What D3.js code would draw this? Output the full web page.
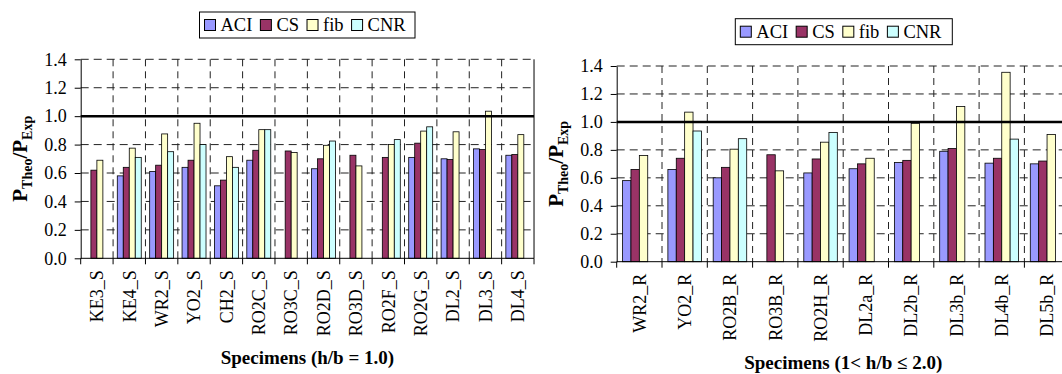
<!DOCTYPE html>
<html><head><meta charset="utf-8">
<script src="https://cdn.jsdelivr.net/npm/d3@7"></script>
<style>body{margin:0;background:#fff}svg{display:block}
svg text{font-family:"Liberation Serif","Times New Roman",Times,"DejaVu Serif",serif !important;}</style>
</head><body>
<svg id="c" width="1062" height="374"></svg>
<script>
const seriesNames = ["ACI", "CS", "fib", "CNR"];
const seriesColors = ["#9999FF", "#993366", "#FFFFCC", "#CCFFFF"];
const yTicks = [0, 0.2, 0.4, 0.6, 0.8, 1.0, 1.2, 1.4];

const leftCategories = ["KE3_S","KE4_S","WR2_S","YO2_S","CH2_S","RO2C_S","RO3C_S","RO2D_S","RO3D_S","RO2F_S","RO2G_S","DL2_S","DL3_S","DL4_S"];
const leftACI = [null,0.58,0.61,0.64,0.51,0.69,null,0.63,null,null,0.71,0.70,0.77,0.725];
const leftCS  = [0.62,0.64,0.655,0.69,0.55,0.76,0.755,0.70,0.725,0.71,0.81,0.695,0.765,0.73];
const leftFib = [0.69,0.775,0.875,0.95,0.715,0.905,0.745,0.795,0.65,0.80,0.895,0.89,1.035,0.87];
const leftCNR = [null,0.71,0.75,0.80,0.64,0.905,null,0.825,null,0.835,0.925,null,null,null];

const rightCategories = ["WR2_R","YO2_R","RO2B_R","RO3B_R","RO2H_R","DL2a_R","DL2b_R","DL3b_R","DL4b_R","DL5b_R"];
const rightACI = [0.58,0.66,0.60,null,0.635,0.665,0.71,0.79,0.705,0.70];
const rightCS  = [0.66,0.74,0.675,0.765,0.735,0.70,0.725,0.81,0.74,0.72];
const rightFib = [0.76,1.07,0.805,0.65,0.855,0.74,0.99,1.11,1.355,0.91];
const rightCNR = [null,0.935,0.88,null,0.925,null,null,null,0.877,null];

const svg = d3.select("#c");
const FONT = '"Liberation Serif","Times New Roman",Times,serif';

function drawChart(cfg) {
  const g = svg.append("g").style("font-family", FONT);
  const n = cfg.categories.length;
  const x0 = d3.scaleBand().domain(cfg.categories).range([cfg.left, cfg.left + n * cfg.step]).padding(0);
  const off = cfg.step * 0.13;
  const x1 = d3.scaleBand().domain(seriesNames).range([off, cfg.step - off]).padding(0);
  const y = d3.scaleLinear().domain([0, 1.4]).range([cfg.bottom, cfg.top]);
  const right = cfg.left + n * cfg.step;

  g.append("g").selectAll("line").data(yTicks.filter(t => t > 0 && t !== 1.0))
    .join("line")
    .attr("x1", cfg.left).attr("x2", right)
    .attr("y1", d => y(d)).attr("y2", d => y(d))
    .attr("stroke", "#222").attr("stroke-width", 1).attr("stroke-dasharray", "8,5");
  g.append("g").selectAll("line").data(cfg.categories.slice(1))
    .join("line")
    .attr("x1", d => x0(d)).attr("x2", d => x0(d))
    .attr("y1", cfg.top).attr("y2", cfg.bottom)
    .attr("stroke", "#222").attr("stroke-width", 1).attr("stroke-dasharray", "7,5");

  const series = [cfg.aci, cfg.cs, cfg.fib, cfg.cnr];
  const rows = [];
  cfg.categories.forEach((c, i) => {
    series.forEach((arr, s) => {
      if (arr[i] != null) rows.push({c, s: seriesNames[s], v: arr[i], col: seriesColors[s]});
    });
  });
  g.append("g").selectAll("rect").data(rows).join("rect")
    .attr("x", d => x0(d.c) + x1(d.s))
    .attr("y", d => y(d.v))
    .attr("width", x1.bandwidth())
    .attr("height", d => y(0) - y(d.v))
    .attr("fill", d => d.col)
    .attr("stroke", "#000").attr("stroke-width", 0.8);

  g.append("line").attr("x1", cfg.left).attr("x2", right)
    .attr("y1", y(1.0)).attr("y2", y(1.0))
    .attr("stroke", "#000").attr("stroke-width", 2.5);

  if (cfg.rightBorder) {
    g.append("line").attr("x1", right).attr("x2", right)
      .attr("y1", cfg.top).attr("y2", cfg.bottom).attr("stroke", "#000").attr("stroke-width", 1);
  }

  const yAxis = d3.axisLeft(y).tickValues(yTicks).tickFormat(d3.format(".1f")).tickSize(6).tickSizeOuter(0).tickPadding(8);
  const ya = g.append("g").attr("transform", `translate(${cfg.left},0)`).call(yAxis);
  ya.attr("font-family", null).attr("font-size", null);
  ya.select(".domain").attr("stroke", "#000");
  ya.selectAll(".tick line").attr("stroke", "#000");
  ya.selectAll("text").style("font-family", FONT).attr("font-size", 18).attr("fill", "#000");

  g.append("line").attr("x1", cfg.left).attr("x2", right)
    .attr("y1", y(0)).attr("y2", y(0)).attr("stroke", "#000");
  const bounds = cfg.categories.map(c => x0(c)).concat([right]);
  g.append("g").selectAll("line").data(bounds).join("line")
    .attr("x1", d => d).attr("x2", d => d)
    .attr("y1", y(0)).attr("y2", y(0) + 6).attr("stroke", "#000");

  g.append("g").selectAll("text").data(cfg.categories).join("text")
    .attr("transform", d => `translate(${x0(d) + cfg.step / 2},${y(0) + 12}) rotate(-90)`)
    .attr("text-anchor", "end").attr("dy", "0.35em")
    .style("font-family", FONT).attr("font-size", 18).attr("fill", "#000")
    .text(d => d);

  g.append("text").attr("x", (cfg.left + right) / 2).attr("y", cfg.xTitleY)
    .attr("text-anchor", "middle").style("font-family", FONT).attr("font-size", 19)
    .attr("font-weight", "bold").text(cfg.xTitle);

  const yt = g.append("text")
    .attr("transform", `translate(${cfg.left - 54},${(cfg.top + cfg.bottom) / 2}) rotate(-90)`)
    .attr("text-anchor", "middle").style("font-family", FONT).attr("font-weight", "bold").attr("font-size", 21);
  yt.append("tspan").text("P");
  yt.append("tspan").attr("font-size", 14).attr("dy", 5).text("Theo");
  yt.append("tspan").attr("dy", -5).text("/P");
  yt.append("tspan").attr("font-size", 14).attr("dy", 5).text("Exp");

  const lg = g.append("g");
  lg.append("rect").attr("x", cfg.legX).attr("y", cfg.legY)
    .attr("width", cfg.legW).attr("height", cfg.legH)
    .attr("fill", "#fff").attr("stroke", "#000").attr("stroke-width", 1);
  let lx = cfg.legX + 5;
  const cy = cfg.legY + cfg.legH / 2;
  seriesNames.forEach((s, i) => {
    lg.append("rect").attr("x", lx).attr("y", cy - 5.5).attr("width", 11).attr("height", 11)
      .attr("fill", seriesColors[i]).attr("stroke", "#000").attr("stroke-width", 1);
    const t = lg.append("text").attr("x", lx + 16).attr("y", cy).attr("dy", "0.35em")
      .style("font-family", FONT).attr("font-size", 18.5).attr("fill", "#000").text(s);
    lx = lx + 16 + t.node().getComputedTextLength() + 8;
  });
}

drawChart({
  categories: leftCategories, aci: leftACI, cs: leftCS, fib: leftFib, cnr: leftCNR,
  left: 80.7, step: 32.38, top: 59.3, bottom: 258.3, rightBorder: true,
  xTitle: "Specimens (h/b = 1.0)", xTitleY: 364,
  legX: 199.5, legY: 12, legW: 215.5, legH: 26
});
drawChart({
  categories: rightCategories, aci: rightACI, cs: rightCS, fib: rightFib, cnr: rightCNR,
  left: 616.7, step: 45.3, top: 66, bottom: 261.7, rightBorder: false,
  xTitle: "Specimens (1< h/b \u2264 2.0)", xTitleY: 369,
  legX: 735.3, legY: 18.7, legW: 217, legH: 26
});
</script>
</body></html>
